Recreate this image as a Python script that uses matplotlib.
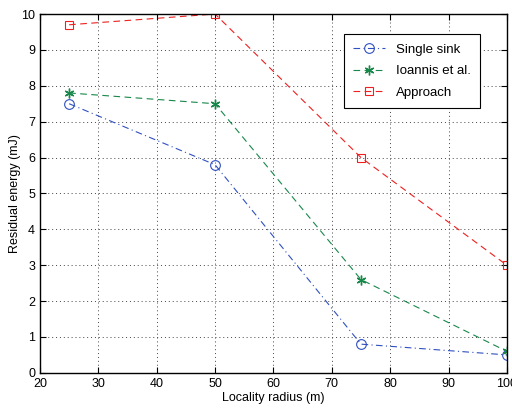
import matplotlib.pyplot as plt
import numpy as np

plt.rcParams['font.family'] = ['Liberation Sans', 'DejaVu Sans']

radius = [25, 50, 75, 100]
single_sink = [7.5, 5.8, 0.8, 0.5]
ioannis = [7.8, 7.5, 2.6, 0.6]
approach = [9.7, 10.0, 6.0, 3.0]

fig = plt.figure(figsize=(5.12, 4.12), dpi=100)
ax = fig.add_axes([0.078, 0.095, 0.912, 0.871])

ax.plot(radius, single_sink, color='#3050c0', lw=0.8, dashes=(6, 3, 1, 3),
        marker='o', mfc='none', ms=7, mew=0.8, label='Single sink')
ax.plot(radius, ioannis, color='#17884a', lw=0.8, dashes=(6, 4),
        marker=(6, 2, 0), ms=7, mew=1.0, label='Ioannis et al.')
ax.plot(radius, approach, color='#ee2020', lw=0.8, dashes=(6, 4),
        marker='s', mfc='none', ms=6, mew=0.8, label='Approach')

ax.set_xlim(20, 100)
ax.set_ylim(0, 10)
ax.set_xticks(np.arange(20, 101, 10))
ax.set_yticks(np.arange(0, 11, 1))
ax.grid(True, linestyle=(0, (1, 3)), color='#444444', lw=0.7)
ax.tick_params(labelsize=9, direction='in', top=True, right=True, length=4)
for s in ax.spines.values():
    s.set_linewidth(1.0)

ax.set_xlabel('Locality radius (m)', fontsize=9, labelpad=2)
ax.set_ylabel('Residual energy (mJ)', fontsize=9, labelpad=0)

leg = ax.legend(loc='upper right', bbox_to_anchor=(0.942, 0.943), fontsize=9.5,
                fancybox=False, edgecolor='black', framealpha=1,
                handlelength=2.4, borderpad=0.7, labelspacing=0.7,
                borderaxespad=0)
leg.get_frame().set_linewidth(0.8)

fig.savefig('out.png', dpi=100)
